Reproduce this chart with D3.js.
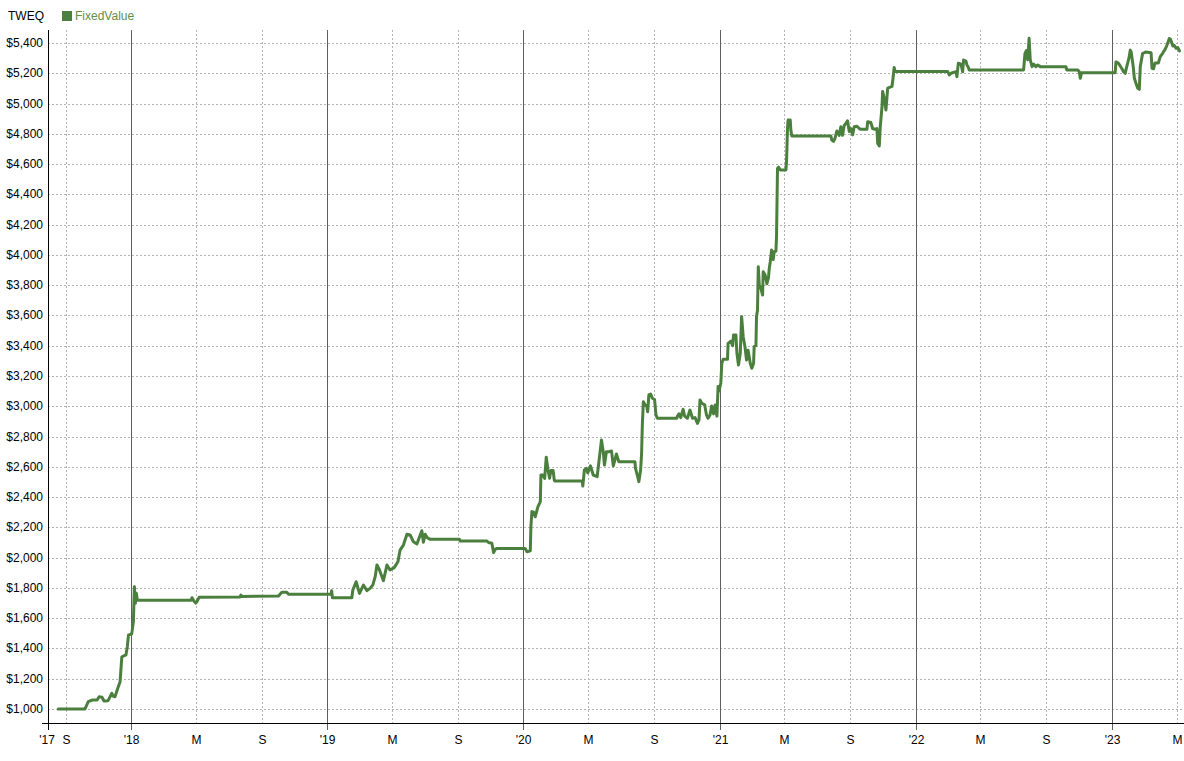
<!DOCTYPE html>
<html><head><meta charset="utf-8">
<script src="https://cdn.jsdelivr.net/npm/d3@7"></script>
<style>
body{margin:0;background:#fff;}
text{font-family:"Liberation Sans",Arial,sans-serif;font-size:12px;}
</style></head>
<body><svg id="c" width="1184" height="761"></svg>
<script>
const title = "TWEQ";
const seriesName = "FixedValue";
const yTicks = [1000,1200,1400,1600,1800,2000,2200,2400,2600,2800,3000,3200,3400,3600,3800,4000,4200,4400,4600,4800,5000,5200,5400];
const xDomainYears = [2017.5765, 2023.367];
const dates = [
2017.629,2017.765,2017.782,2017.801,2017.827,2017.837,2017.852,2017.862,2017.883,2017.902,2017.908,2017.918,2017.935,2017.944,2017.953,2017.974,2017.981,2017.987,2018.003,2018.005,2018.012,2018.015,2018.017,2018.022,2018.027,2018.032,2018.306,2018.311,2018.321,2018.330,2018.337,2018.347,2018.556,2018.560,2018.564,2018.752,2018.769,2018.794,2018.803,2019.020,2019.023,2019.027,
2019.126,2019.131,2019.148,2019.165,2019.185,2019.203,2019.219,2019.233,2019.245,2019.254,2019.267,2019.287,2019.305,2019.321,2019.342,2019.361,2019.372,2019.389,2019.407,2019.423,2019.440,2019.458,2019.469,2019.483,2019.491,2019.500,2019.512,2019.526,2019.675,2019.679,2019.815,2019.823,2019.840,2019.849,2019.857,2019.866,2020.010,2020.019,2020.036,2020.039,2020.044,
2020.053,2020.061,2020.075,2020.087,2020.090,2020.100,2020.109,2020.117,2020.126,2020.134,2020.141,2020.152,2020.158,2020.160,2020.300,2020.303,2020.311,2020.321,2020.328,2020.342,2020.356,2020.376,2020.381,2020.388,2020.398,2020.407,2020.413,2020.423,2020.435,2020.449,2020.458,2020.466,2020.474,2020.486,2020.568,2020.571,2020.580,2020.588,2020.597,2020.602,2020.606,2020.611,2020.619,2020.628,2020.633,2020.639,2020.648,2020.657,2020.668,2020.675,2020.682,2020.781,2020.784,2020.792,2020.801,2020.813,2020.821,2020.835,2020.848,2020.861,2020.874,2020.886,2020.894,2020.899,2020.908,2020.923,2020.932,2020.940,2020.950,2020.958,2020.968,2020.976,2020.985,2020.991,2020.996,
2021.005,2021.010,2021.017,2021.039,2021.042,2021.056,2021.065,2021.070,2021.082,2021.087,2021.095,2021.104,2021.111,2021.119,2021.128,2021.136,2021.144,2021.155,2021.163,2021.172,2021.175,2021.184,2021.187,2021.192,2021.196,2021.201,2021.209,2021.218,2021.221,2021.231,2021.240,2021.248,2021.252,2021.257,2021.264,2021.272,2021.277,2021.286,2021.289,2021.294,2021.299,2021.308,2021.337,2021.340,2021.345,2021.348,2021.359,2021.362,2021.367,2021.566,2021.571,2021.580,2021.587,2021.597,2021.609,2021.617,2021.626,2021.634,2021.643,2021.651,2021.660,2021.668,2021.677,2021.685,2021.699,2021.711,2021.719,2021.750,2021.754,2021.770,2021.779,2021.791,2021.801,2021.805,2021.813,2021.818,2021.827,2021.830,2021.839,2021.847,2021.856,2021.878,2021.883,2021.889,2021.894,
2022.162,2022.170,2022.179,2022.204,2022.209,2022.216,2022.230,2022.238,2022.243,2022.255,2022.260,2022.267,2022.272,2022.549,2022.556,2022.563,2022.570,2022.577,2022.583,2022.592,2022.601,2022.612,2022.621,2022.634,2022.765,2022.769,2022.825,2022.833,2022.838,2022.845,
2023.016,2023.020,2023.032,2023.049,2023.059,2023.067,2023.075,2023.086,2023.093,2023.098,2023.108,2023.114,2023.122,2023.131,2023.139,2023.144,2023.156,2023.163,2023.171,2023.199,2023.204,2023.212,2023.219,2023.236,2023.246,2023.258,2023.270,2023.280,2023.292,2023.298,2023.310,2023.317,2023.327,2023.335,2023.344
];
const values = [
1000,1000,1048,1059,1060,1081,1078,1053,1055,1104,1085,1081,1147,1180,1345,1357,1412,1489,1495,1511,1577,1720,1808,1698,1765,1718,1718,1735,1712,1700,1712,1738,1740,1752,1744,1746,1771,1771,1758,1758,1781,1735,
1735,1786,1841,1764,1819,1782,1797,1819,1874,1951,1918,1848,1951,1918,1934,1973,2050,2083,2154,2150,2105,2090,2130,2178,2102,2154,2130,2121,2121,2110,2110,2100,2095,2033,2055,2061,2061,2039,2045,2204,2304,
2300,2270,2337,2370,2546,2546,2524,2663,2579,2524,2575,2575,2513,2506,2506,2473,2579,2590,2560,2606,2546,2535,2590,2667,2777,2700,2612,2700,2700,2705,2606,2645,2685,2634,2634,2590,2546,2502,2579,2689,2887,3030,3010,3002,2964,3075,3081,3053,3045,2943,2921,2921,2935,2950,2925,2980,2935,2921,2975,2921,2925,2887,2910,3042,3020,3009,2943,2921,2943,3002,2950,3009,2935,3130,3100,
3154,3284,3310,3310,3416,3430,3400,3471,3471,3350,3273,3350,3592,3460,3394,3306,3370,3284,3251,3284,3394,3400,3592,3636,3922,3800,3780,3735,3889,3867,3810,3850,3911,3955,4033,3970,4021,4025,4121,4572,4580,4561,4561,4616,4837,4891,4891,4825,4786,4786,4759,4750,4770,4819,4790,4847,4790,4855,4869,4886,4815,4835,4793,4847,4850,4835,4830,4830,4880,4875,4835,4830,4835,4736,4720,4847,4980,5080,5030,4958,5102,5113,5167,5238,5211,
5211,5189,5200,5211,5178,5266,5260,5210,5288,5280,5255,5240,5222,5222,5332,5350,5290,5431,5288,5244,5260,5244,5255,5244,5244,5222,5222,5210,5167,5204,
5204,5275,5268,5233,5211,5200,5244,5298,5353,5340,5244,5167,5134,5101,5094,5244,5332,5335,5340,5336,5233,5230,5268,5268,5310,5332,5357,5385,5430,5425,5380,5385,5365,5370,5348
];

function yf(y){const yr=Math.floor(y);const s=new Date(yr,0,1),e=new Date(yr+1,0,1);return new Date(s.getTime()+(y-yr)*(e-s));}

const L=48,R=1184,T=30,B=723;
const svg=d3.select("#c");
const x=d3.scaleTime().domain(xDomainYears.map(yf)).range([L,R]);
const y=d3.scaleLinear().domain([907.5,5486]).range([B,T]);
const green="#4b7f3e";

// horizontal grid
svg.append("g").selectAll("line").data(yTicks).join("line")
  .attr("x1",L).attr("x2",R).attr("y1",d=>Math.round(y(d))+0.5).attr("y2",d=>Math.round(y(d))+0.5)
  .attr("stroke","#b4b4b4").attr("stroke-dasharray","2,2");

// x ticks
const months=d3.timeMonth.range(x.domain()[0],x.domain()[1]).filter(d=>[0,4,8].includes(d.getMonth()));
const xg=svg.append("g");
months.forEach(d=>{
  const px=Math.round(x(d))+0.5;
  const isYear=d.getMonth()===0;
  xg.append("line").attr("x1",px).attr("x2",px).attr("y1",T).attr("y2",isYear?730:B)
    .attr("stroke",isYear?"#5f5f5f":"#b4b4b4").attr("stroke-dasharray",isYear?null:"2,2");
  const lab=isYear?"'"+String(d.getFullYear()).slice(2):(d.getMonth()===4?"M":"S");
  xg.append("text").attr("x",px).attr("y",744).attr("text-anchor","middle").attr("fill","#000").text(lab);
});
xg.append("text").attr("x",L-1).attr("y",744).attr("text-anchor","middle").attr("fill","#000")
  .text("'"+String(x.domain()[0].getFullYear()).slice(2));

// y labels
svg.append("g").selectAll("text").data(yTicks).join("text")
  .attr("x",43).attr("y",d=>y(d)+4).attr("text-anchor","end").attr("fill","#000")
  .text(d=>"$"+d3.format(",")(d));

// axes lines
svg.append("line").attr("x1",L+0.5).attr("x2",L+0.5).attr("y1",T).attr("y2",730).attr("stroke","#000");
svg.append("line").attr("x1",42).attr("x2",R).attr("y1",B+0.5).attr("y2",B+0.5).attr("stroke","#000");

// series
const pts=dates.map((d,i)=>[yf(d),values[i]]);
svg.append("path").datum(pts)
  .attr("d",d3.line().x(d=>x(d[0])).y(d=>y(d[1])))
  .attr("fill","none").attr("stroke",green).attr("stroke-width",3).attr("stroke-linejoin","round").attr("stroke-linecap","round");

// legend
svg.append("text").attr("x",8).attr("y",20).attr("fill","#000").text(title);
svg.append("rect").attr("x",62).attr("y",11).attr("width",10).attr("height",10).attr("fill",green);
svg.append("text").attr("x",75).attr("y",20).attr("fill","#5d8f4f").text(seriesName);
</script></body></html>
